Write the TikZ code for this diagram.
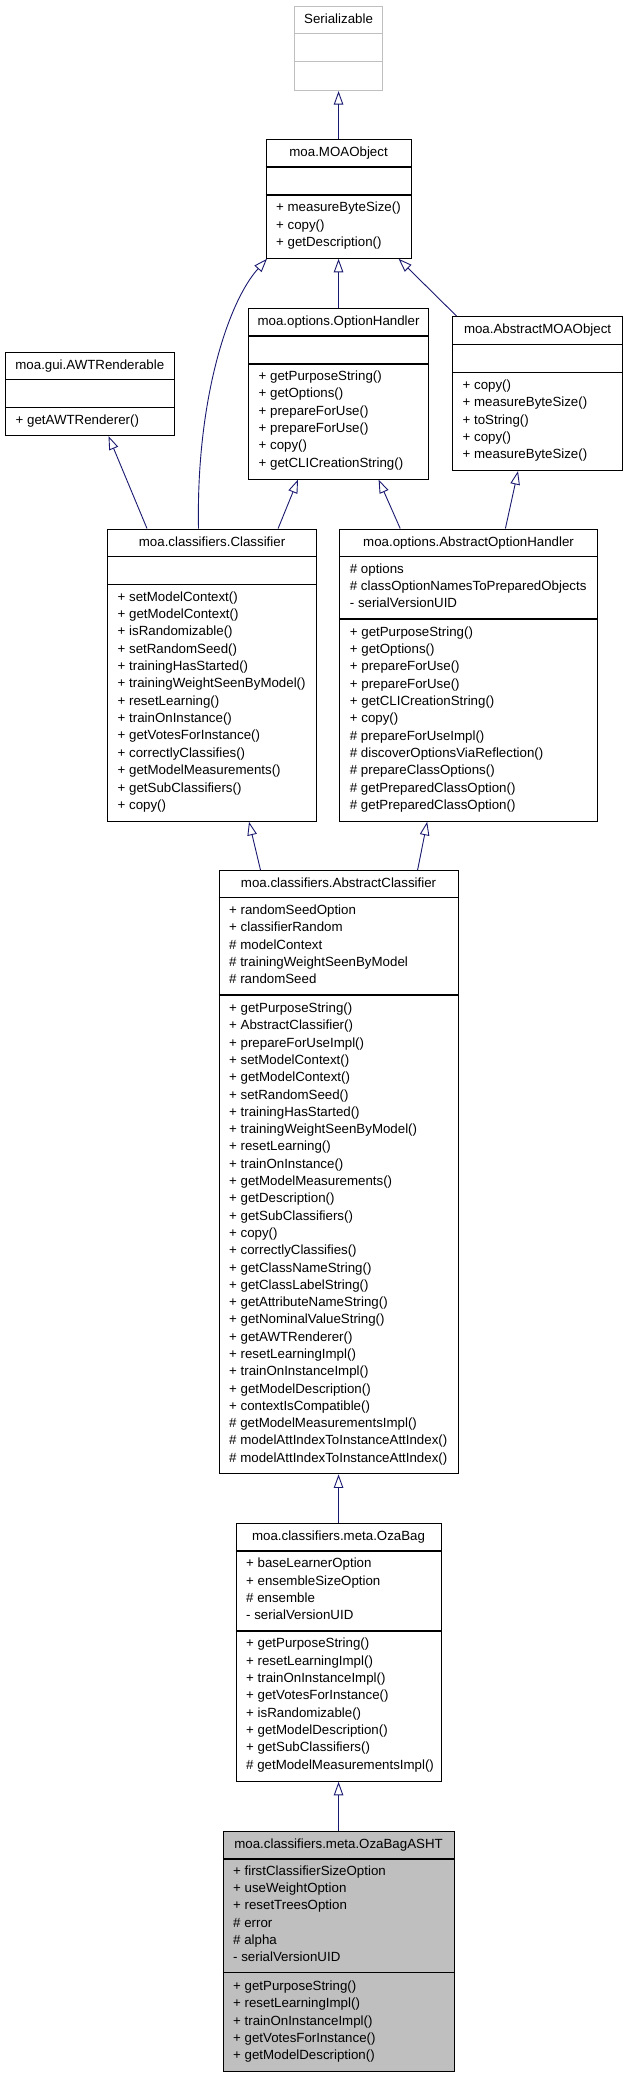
\documentclass[tikz,border=0pt]{standalone}
\usepackage{fontspec}
\setmainfont{Liberation Sans}
\usetikzlibrary{arrows.meta}
\definecolor{edgeBlue}{HTML}{191970}
\definecolor{boxGray}{HTML}{BFBFBF}

\begin{document}
\begin{tikzpicture}[x=1pt,y=-1pt,
  font=\fontsize{13.3}{16}\selectfont,
  umlbox/.style={draw=black,line width=1.1pt,inner sep=0pt,anchor=north west},
  divider/.style={line width=1.1pt},
  heading/.style={inner sep=0pt,text height=10pt,text depth=2.7pt},
  member/.style={anchor=west,inner sep=0pt,text height=10pt,text depth=2.7pt},
  isa/.style={draw=edgeBlue,line width=0.9pt,-{Triangle[open,length=13.5pt,width=9.5pt]}}]
  \useasboundingbox (0,0) rectangle (624,2077);

  % Serializable
  \node[umlbox,draw=boxGray,minimum width=88pt,minimum height=84pt] (ser) at (294,6) {};
  \foreach \d in {27.5,55.7}
    \draw[divider,boxGray] ([yshift=-\d*1pt]ser.north west) -- ([yshift=-\d*1pt]ser.north east);
  \node[heading] (ser-t) at ([yshift=-13.75pt]ser.north) {Serializable};

  % moa.MOAObject
  \node[umlbox,minimum width=145pt,minimum height=118.4pt] (moa) at (265.5,139.3) {};
  \foreach \d in {27.7,55.7}
    \draw[divider] ([yshift=-\d*1pt]moa.north west) -- ([yshift=-\d*1pt]moa.north east);
  \node[heading] (moa-t) at ([yshift=-13.85pt]moa.north) {moa.MOAObject};
  \foreach \m [count=\i from 0] in {+ measureByteSize(),+ copy(),+ getDescription()}
    \node[member] (moa-m\i) at (276,{208.3+17.2*\i}) {\m};

  % moa.options.OptionHandler
  \node[umlbox,minimum width=180pt,minimum height=170.5pt] (opth) at (248,308) {};
  \foreach \d in {28,56}
    \draw[divider] ([yshift=-\d*1pt]opth.north west) -- ([yshift=-\d*1pt]opth.north east);
  \node[heading] (opth-t) at ([yshift=-14pt]opth.north) {moa.options.OptionHandler};
  \foreach \m [count=\i from 0] in {+ getPurposeString(),+ getOptions(),+ prepareForUse(),
      + prepareForUse(),+ copy(),+ getCLICreationString()}
    \node[member] (opth-m\i) at (258.5,{377+17.33*\i}) {\m};

  % moa.AbstractMOAObject
  \node[umlbox,minimum width=170pt,minimum height=154pt] (amoa) at (452,316) {};
  \foreach \d in {28.5,56.5}
    \draw[divider] ([yshift=-\d*1pt]amoa.north west) -- ([yshift=-\d*1pt]amoa.north east);
  \node[heading] (amoa-t) at ([yshift=-14.25pt]amoa.north) {moa.AbstractMOAObject};
  \foreach \m [count=\i from 0] in {+ copy(),+ measureByteSize(),+ toString(),+ copy(),+ measureByteSize()}
    \node[member] (amoa-m\i) at (462.5,{385.8+17.33*\i}) {\m};

  % moa.gui.AWTRenderable
  \node[umlbox,minimum width=168.5pt,minimum height=83.5pt] (awt) at (5,351.5) {};
  \foreach \d in {28,56}
    \draw[divider] ([yshift=-\d*1pt]awt.north west) -- ([yshift=-\d*1pt]awt.north east);
  \node[heading] (awt-t) at ([yshift=-14pt]awt.north) {moa.gui.AWTRenderable};
  \node[member] (awt-m0) at (15.5,420.7) {+ getAWTRenderer()};

  % moa.classifiers.Classifier
  \node[umlbox,minimum width=209pt,minimum height=292.2pt] (clsf) at (107,528.5) {};
  \foreach \d in {28,55.8}
    \draw[divider] ([yshift=-\d*1pt]clsf.north west) -- ([yshift=-\d*1pt]clsf.north east);
  \node[heading] (clsf-t) at ([yshift=-14pt]clsf.north) {moa.classifiers.Classifier};
  \foreach \m [count=\i from 0] in {+ setModelContext(),+ getModelContext(),+ isRandomizable(),
      + setRandomSeed(),+ trainingHasStarted(),+ trainingWeightSeenByModel(),+ resetLearning(),
      + trainOnInstance(),+ getVotesForInstance(),+ correctlyClassifies(),+ getModelMeasurements(),
      + getSubClassifiers(),+ copy()}
    \node[member] (clsf-m\i) at (117.5,{597.5+17.35*\i}) {\m};

  % moa.options.AbstractOptionHandler
  \node[umlbox,minimum width=257.6pt,minimum height=292.2pt] (aoh) at (339.2,528.5) {};
  \foreach \d in {28,90.5}
    \draw[divider] ([yshift=-\d*1pt]aoh.north west) -- ([yshift=-\d*1pt]aoh.north east);
  \node[heading] (aoh-t) at ([yshift=-14pt]aoh.north) {moa.options.AbstractOptionHandler};
  \foreach \m [count=\i from 0] in {\# options,\# classOptionNamesToPreparedObjects,- serialVersionUID}
    \node[member] (aoh-a\i) at (349.7,{569.5+17.33*\i}) {\m};
  \foreach \m [count=\i from 0] in {+ getPurposeString(),+ getOptions(),+ prepareForUse(),
      + prepareForUse(),+ getCLICreationString(),+ copy(),\# prepareForUseImpl(),
      \# discoverOptionsViaReflection(),\# prepareClassOptions(),\# getPreparedClassOption(),
      \# getPreparedClassOption()}
    \node[member] (aoh-m\i) at (349.7,{632.5+17.33*\i}) {\m};

  % moa.classifiers.AbstractClassifier
  \node[umlbox,minimum width=239pt,minimum height=603.3pt] (acls) at (218.5,870) {};
  \foreach \d in {27.7,125}
    \draw[divider] ([yshift=-\d*1pt]acls.north west) -- ([yshift=-\d*1pt]acls.north east);
  \node[heading] (acls-t) at ([yshift=-13.85pt]acls.north) {moa.classifiers.AbstractClassifier};
  \foreach \m [count=\i from 0] in {+ randomSeedOption,+ classifierRandom,\# modelContext,
      \# trainingWeightSeenByModel,\# randomSeed}
    \node[member] (acls-a\i) at (229,{910.8+17.33*\i}) {\m};
  \foreach \m [count=\i from 0] in {+ getPurposeString(),+ AbstractClassifier(),+ prepareForUseImpl(),
      + setModelContext(),+ getModelContext(),+ setRandomSeed(),+ trainingHasStarted(),
      + trainingWeightSeenByModel(),+ resetLearning(),+ trainOnInstance(),+ getModelMeasurements(),
      + getDescription(),+ getSubClassifiers(),+ copy(),+ correctlyClassifies(),
      + getClassNameString(),+ getClassLabelString(),+ getAttributeNameString(),
      + getNominalValueString(),+ getAWTRenderer(),+ resetLearningImpl(),+ trainOnInstanceImpl(),
      + getModelDescription(),+ contextIsCompatible(),\# getModelMeasurementsImpl(),
      \# modelAttIndexToInstanceAttIndex(),\# modelAttIndexToInstanceAttIndex()}
    \node[member] (acls-m\i) at (229,{1009+17.29*\i}) {\m};

  % moa.classifiers.meta.OzaBag
  \node[umlbox,minimum width=205pt,minimum height=257.4pt] (oza) at (235.5,1523.3) {};
  \foreach \d in {27.7,107.7}
    \draw[divider] ([yshift=-\d*1pt]oza.north west) -- ([yshift=-\d*1pt]oza.north east);
  \node[heading] (oza-t) at ([yshift=-13.85pt]oza.north) {moa.classifiers.meta.OzaBag};
  \foreach \m [count=\i from 0] in {+ baseLearnerOption,+ ensembleSizeOption,\# ensemble,- serialVersionUID}
    \node[member] (oza-a\i) at (246,{1564.3+17.33*\i}) {\m};
  \foreach \m [count=\i from 0] in {+ getPurposeString(),+ resetLearningImpl(),+ trainOnInstanceImpl(),
      + getVotesForInstance(),+ isRandomizable(),+ getModelDescription(),+ getSubClassifiers(),
      \# getModelMeasurementsImpl()}
    \node[member] (oza-m\i) at (246,{1644.3+17.33*\i}) {\m};

  % moa.classifiers.meta.OzaBagASHT
  \node[umlbox,fill=boxGray,minimum width=231pt,minimum height=240pt] (asht) at (222.5,1830.7) {};
  \foreach \d in {28.3,142}
    \draw[divider] ([yshift=-\d*1pt]asht.north west) -- ([yshift=-\d*1pt]asht.north east);
  \node[heading] (asht-t) at ([yshift=-14.15pt]asht.north) {moa.classifiers.meta.OzaBagASHT};
  \foreach \m [count=\i from 0] in {+ firstClassifierSizeOption,+ useWeightOption,+ resetTreesOption,
      \# error,\# alpha,- serialVersionUID}
    \node[member] (asht-a\i) at (233,{1871.5+17.36*\i}) {\m};
  \foreach \m [count=\i from 0] in {+ getPurposeString(),+ resetLearningImpl(),+ trainOnInstanceImpl(),
      + getVotesForInstance(),+ getModelDescription()}
    \node[member] (asht-m\i) at (233,{1986.7+17.33*\i}) {\m};

  % inheritance
  \draw[isa] (moa.north) -- (ser.south);
  \draw[isa] (opth.north) -- (moa.south);
  \draw[isa] ([xshift=4.5pt]amoa.north west) -- ([xshift=-13pt]moa.south east);
  \draw[isa] ([xshift=91.5pt]clsf.north west) .. controls (196,400) and (228,302) .. ([xshift=1.5pt]moa.south west);
  \draw[isa] ([xshift=40pt]clsf.north west) -- ([xshift=103.5pt]awt.south west);
  \draw[isa] ([xshift=-39pt]clsf.north east) -- ([xshift=50pt]opth.south west);
  \draw[isa] ([xshift=61pt]aoh.north west) -- ([xshift=-50.5pt]opth.south east);
  \draw[isa] ([xshift=-92.5pt]aoh.north east) -- ([xshift=66pt]amoa.south west);
  \draw[isa] ([xshift=42pt]acls.north west) -- ([xshift=142pt]clsf.south west);
  \draw[isa] ([xshift=-41pt]acls.north east) -- ([xshift=88pt]aoh.south west);
  \draw[isa] (oza.north) -- (acls.south);
  \draw[isa] (asht.north) -- (oza.south);
\end{tikzpicture}
\end{document}
